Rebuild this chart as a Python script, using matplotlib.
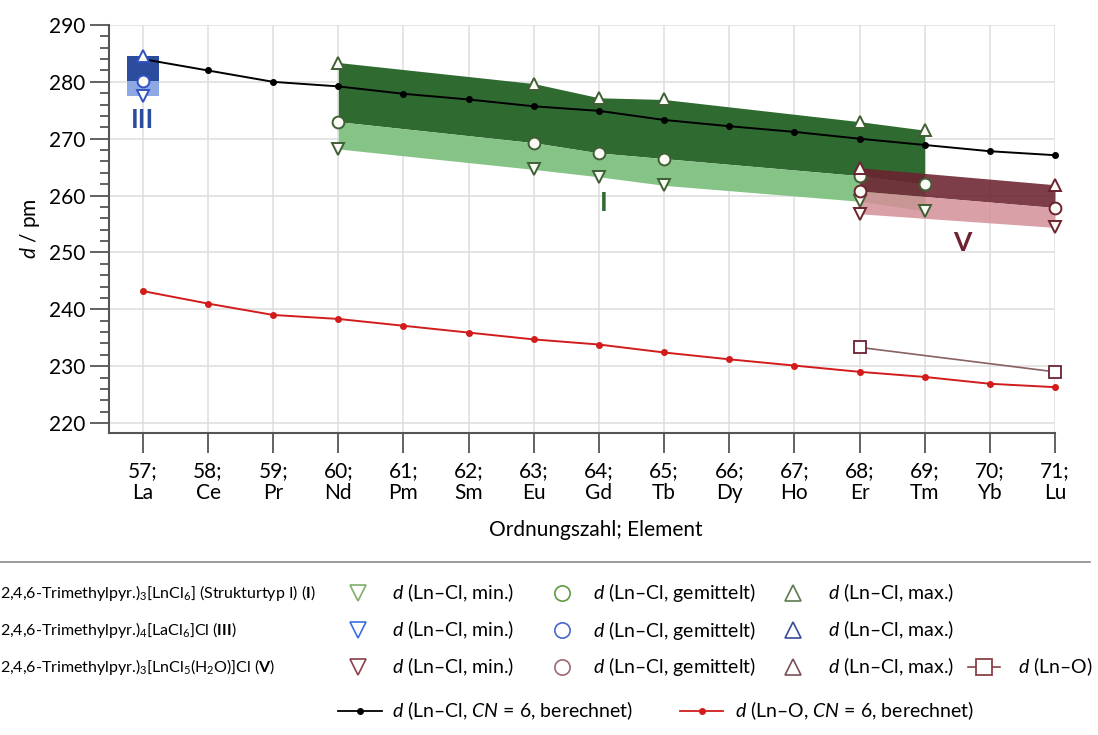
import numpy as np
import matplotlib
matplotlib.use("Agg")
import matplotlib.pyplot as plt
from matplotlib.lines import Line2D

# ================== FONTS ==================
FONT = "Lato"
plt.rcParams["font.family"] = [FONT, "DejaVu Sans"]
plt.rcParams["mathtext.fontset"] = "custom"
plt.rcParams["mathtext.rm"] = FONT
plt.rcParams["mathtext.it"] = FONT + ":italic"
plt.rcParams["mathtext.bf"] = FONT + ":bold"

# ================== DATA ==================
z = np.arange(57, 72)
elements = ["La", "Ce", "Pr", "Nd", "Pm", "Sm", "Eu", "Gd", "Tb", "Dy", "Ho", "Er", "Tm", "Yb", "Lu"]

# calculated distances, CN = 6
d_lncl_calc = [284.0, 282.0, 280.0, 279.2, 277.9, 276.9, 275.7, 274.9, 273.3, 272.2, 271.2, 270.0, 268.9, 267.8, 267.1]
d_lno_calc = [243.2, 241.0, 239.0, 238.3, 237.1, 235.9, 234.7, 233.8, 232.4, 231.2, 230.1, 229.0, 228.1, 226.9, 226.3]

# structure type I (green)
z_I = [60, 63, 64, 65, 68, 69]
I_max = [283.4, 279.7, 277.2, 276.9, 273.0, 271.5]
I_mean = [273.0, 269.3, 267.5, 266.5, 263.5, 262.0]
I_min = [268.2, 264.6, 263.3, 261.8, 259.0, 257.3]

# structure type III (blue, La only)
z_III = [57]
III_max = [284.6]
III_mean = [280.1]
III_min = [277.6]

# structure type V (maroon)
z_V = [68, 71]
V_max = [264.9, 261.9]
V_mean = [260.8, 257.9]
V_min = [256.8, 254.4]
z_V_lno = [68, 71]
V_lno = [233.3, 229.0]

# ================== STYLE ==================
GREEN_D, GREEN_L, GREEN_E = "#2f6a31", "#86c386", "#3f5f35"
BLUE_D, BLUE_L, BLUE_E = "#2b4c9c", "#8ea8e4", "#3152c4"
MAR_D, MAR_L, MAR_E = "#6b2330", "#d38f98", "#6b2330"
RED = "#d21c1c"
GRID = "#dedede"
AX = "#555555"

fig = plt.figure(figsize=(10.98, 7.35), dpi=100)
ax = fig.add_axes([109 / 1098, 1 - 433 / 735, (1055 - 109) / 1098, (433 - 25) / 735])

# bands
ax.fill_between(z_I, I_mean, I_max, color=GREEN_D, lw=0, zorder=2)
ax.fill_between(z_I, I_min, I_mean, color=GREEN_L, lw=0, zorder=2)
half = 0.25
xb = [z_III[0] - half, z_III[0] + half]
ax.fill_between(xb, III_mean * 2, III_max * 2, color=BLUE_D, lw=0, zorder=2)
ax.fill_between(xb, III_min * 2, III_mean * 2, color=BLUE_L, lw=0, zorder=2)
ax.fill_between(z_V, V_mean, V_max, color=MAR_D, lw=0, alpha=0.88, zorder=3)
ax.fill_between(z_V, V_min, V_mean, color=MAR_L, lw=0, alpha=0.85, zorder=3)

# calculated lines
ax.plot(z, d_lncl_calc, color="black", lw=1.4, marker="o", ms=4, zorder=5, clip_on=False)
ax.plot(z, d_lno_calc, color=RED, lw=1.4, marker="o", ms=4, zorder=5, clip_on=False)
ax.plot(z_V_lno, V_lno, color="#8a6060", lw=1.2, marker="s", ms=9,
        mfc="white", mec=MAR_E, mew=1.3, zorder=5, clip_on=False)

# markers
for xs, mx, mn, lo, ec in [(z_I, I_max, I_mean, I_min, GREEN_E),
                           (z_III, III_max, III_mean, III_min, BLUE_E),
                           (z_V, V_max, V_mean, V_min, MAR_E)]:
    kw = dict(ls="none", ms=8.5, mfc="#fbfbf6", mec=ec, mew=1.4, zorder=6, clip_on=False)
    ax.plot(xs, mx, marker="^", **kw)
    ax.plot(xs, mn, marker="o", **kw)
    ax.plot(xs, lo, marker="v", **kw)

# roman numerals
ax.text(57, 273.3, "III", color=BLUE_D, fontsize=19, fontweight="bold", ha="center", va="center", zorder=7)
ax.text(64.08, 258.7, "I", color=GREEN_D, fontsize=19, fontweight="bold", ha="center", va="center", zorder=7)
ax.text(69.57, 251.7, "V", color=MAR_D, fontsize=19, fontweight="bold", ha="center", va="center", zorder=7)

# axes
ax.set_xlim(56.48, 71.0)
ax.set_ylim(218.24, 290)
ax.set_xticks(z)
ax.set_xticklabels([f"{n};\n{e}" for n, e in zip(z, elements)], fontsize=15, linespacing=1.1)
ax.set_yticks(np.arange(220, 291, 10))
ax.set_yticks(np.arange(220, 291, 2), minor=True)
ax.tick_params(axis="y", which="major", length=14, width=1.3, color=AX, labelsize=15, pad=3)
ax.tick_params(axis="y", which="minor", length=6.5, width=1.3, color=AX)
ax.tick_params(axis="x", which="major", length=14.5, width=1.3, color=AX, pad=6)
for s in ["top", "right"]:
    ax.spines[s].set_visible(False)
for s in ["left", "bottom"]:
    ax.spines[s].set_color(AX)
    ax.spines[s].set_linewidth(1.5)
ax.grid(True, which="major", color=GRID, lw=1.1, zorder=0)
ax.set_axisbelow(True)
fig.text(596 / 1098, 1 - 530 / 735, "Ordnungszahl; Element", fontsize=15, ha="center", va="center")
fig.text(30 / 1098, 1 - 229 / 735, "$d$ / pm", fontsize=15, ha="center", va="center", rotation=90)

# ================== LEGEND ==================
lg = fig.add_axes([0, 0, 1, 1], zorder=-1)
lg.set_xlim(0, 1098)
lg.set_ylim(735, 0)
lg.axis("off")
lg.add_line(Line2D([0, 1090], [562, 562], color="#8a8a8a", lw=1.2))

row_y = [593, 630, 667]
row_names = [
    r"2,4,6-Trimethylpyr.)$_3$[LnCl$_6$] (Strukturtyp I) ($\mathbf{I}$)",
    r"2,4,6-Trimethylpyr.)$_4$[LaCl$_6$]Cl ($\mathbf{III}$)",
    r"2,4,6-Trimethylpyr.)$_3$[LnCl$_5$(H$_2$O)]Cl ($\mathbf{V}$)",
]
leg_cols = [("#7eae6a", "#5f9a40", "#5f7a50"),
            ("#3a6ee0", "#4a68c8", "#3a4a9a"),
            ("#8a4048", "#9a6a70", "#7a5058")]
for y, name, (c1, c2, c3) in zip(row_y, row_names, leg_cols):
    lg.text(0, y, name, fontsize=11.5, va="center", ha="left")
    lg.plot([358], [y], marker="v", ms=11, mfc="none", mec=c1, mew=1.2)
    lg.text(392, y, "$d$ (Ln–Cl, min.)", fontsize=14, va="center")
    lg.plot([562], [y], marker="o", ms=11, mfc="none", mec=c2, mew=1.2)
    lg.text(593, y, "$d$ (Ln–Cl, gemittelt)", fontsize=14, va="center")
    lg.plot([793], [y], marker="^", ms=11, mfc="none", mec=c3, mew=1.2)
    lg.text(828, y, "$d$ (Ln–Cl, max.)", fontsize=14, va="center")
lg.plot([968, 1000], [667, 667], color="#8a4048", lw=1.2)
lg.plot([984], [667], marker="s", ms=12, mfc="white", mec="#8a4048", mew=1.3)
lg.text(1018, 667, "$d$ (Ln–O)", fontsize=14, va="center")
lg.plot([338, 382], [711, 711], color="black", lw=1.3)
lg.plot([360], [711], color="black", marker="o", ms=4)
lg.text(392, 711, "$d$ (Ln–Cl, $CN$ = 6, berechnet)", fontsize=14, va="center")
lg.plot([680, 723], [711, 711], color=RED, lw=1.3)
lg.plot([702], [711], color=RED, marker="o", ms=4)
lg.text(735, 711, "$d$ (Ln–O, $CN$ = 6, berechnet)", fontsize=14, va="center")

fig.savefig("out.png", dpi=100)
